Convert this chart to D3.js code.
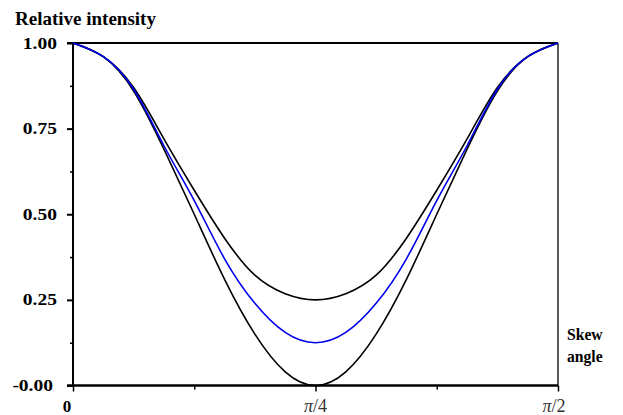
<!DOCTYPE html>
<html>
<head>
<meta charset="utf-8">
<script src="https://cdn.jsdelivr.net/npm/d3@7"></script>
<style>
  body { margin: 0; background: #fff; }
  svg { display: block; }
</style>
</head>
<body>
<svg id="chart" width="623" height="415"></svg>
<script>
// skew angle in degrees (0 .. 90), sampled every 5.625 deg
const angles = [0, 5.625, 11.25, 16.875, 22.5, 28.125, 33.75, 39.375, 45,
                50.625, 56.25, 61.875, 67.5, 73.125, 78.75, 84.375, 90];

// relative intensity
const upperCurve = [1.00, 0.96, 0.87, 0.72, 0.57, 0.43, 0.322, 0.268, 0.25,
                    0.268, 0.322, 0.43, 0.57, 0.72, 0.87, 0.96, 1.00];
const blueCurve  = [1.00, 0.96, 0.865, 0.70, 0.54, 0.37, 0.24, 0.155, 0.125,
                    0.155, 0.24, 0.37, 0.54, 0.70, 0.865, 0.96, 1.00];
const lowerCurve = [1.00, 0.96, 0.86, 0.69, 0.50, 0.31, 0.15, 0.04, 0.00,
                    0.04, 0.15, 0.31, 0.50, 0.69, 0.86, 0.96, 1.00];

const yMajorTicks = [0, 0.25, 0.5, 0.75, 1.0];
const yMinorTicks = [0.125, 0.375, 0.625, 0.875];
const yTickLabels = ["-0.00", "0.25", "0.50", "0.75", "1.00"];
const xMajorTicks = [0, 45, 90];
const xMinorTicks = [22.5, 67.5];
const xTickLabels = ["0", "4", "2"];   // 0, pi/4, pi/2

const serif = "'Liberation Serif', 'DejaVu Serif', serif";
const plotL = 73, plotR = 558, plotT = 43, plotB = 385.5;

const svg = d3.select("#chart");

const x = d3.scaleLinear().domain([0, 90]).range([plotL, plotR]);
const y = d3.scaleLinear().domain([0, 1]).range([plotB, plotT]);

// y axis ticks
svg.append("g")
    .attr("transform", `translate(${plotL},0)`)
    .call(d3.axisLeft(y).tickValues(yMajorTicks).tickSize(6).tickFormat(""))
    .call(g => g.select(".domain").remove())
    .selectAll("line").attr("stroke", "#000").attr("stroke-width", 2);

svg.append("g")
    .attr("transform", `translate(${plotL},0)`)
    .call(d3.axisLeft(y).tickValues(yMinorTicks).tickSize(3).tickFormat(""))
    .call(g => g.select(".domain").remove())
    .selectAll("line").attr("stroke", "#000").attr("stroke-width", 1.5);

// x axis ticks
svg.append("g")
    .attr("transform", `translate(0,${plotB})`)
    .call(d3.axisBottom(x).tickValues(xMajorTicks).tickSize(6).tickFormat(""))
    .call(g => g.select(".domain").remove())
    .selectAll("line").attr("stroke", "#000").attr("stroke-width", 1.5);

svg.append("g")
    .attr("transform", `translate(0,${plotB})`)
    .call(d3.axisBottom(x).tickValues(xMinorTicks).tickSize(4).tickFormat(""))
    .call(g => g.select(".domain").remove())
    .selectAll("line").attr("stroke", "#000").attr("stroke-width", 1.5);

// frame
svg.append("line")
    .attr("x1", plotL - 6).attr("x2", plotR).attr("y1", plotT).attr("y2", plotT)
    .attr("stroke", "#000").attr("stroke-width", 2);
svg.append("line")
    .attr("x1", plotR).attr("x2", plotR).attr("y1", plotT).attr("y2", plotB)
    .attr("stroke", "#000").attr("stroke-width", 1.3);
svg.append("line")
    .attr("x1", plotL).attr("x2", plotL).attr("y1", plotT).attr("y2", plotB + 1)
    .attr("stroke", "#000").attr("stroke-width", 2);
svg.append("line")
    .attr("x1", plotL - 6).attr("x2", plotR).attr("y1", plotB).attr("y2", plotB)
    .attr("stroke", "#000").attr("stroke-width", 2.5);

// curves
const line = d3.line()
    .x((d, i) => x(angles[i]))
    .y(d => y(d))
    .curve(d3.curveNatural);

[[upperCurve, "#000"], [lowerCurve, "#000"], [blueCurve, "#0000ee"]].forEach(s => {
    svg.append("path")
        .attr("d", line(s[0]))
        .attr("fill", "none")
        .attr("stroke", s[1])
        .attr("stroke-width", 1.6);
});

function label(tx, ty, str, anchor, size, sx) {
    return svg.append("text")
        .attr("transform", `translate(${tx},${ty}) scale(${sx || 1},1)`)
        .attr("text-anchor", anchor || "start")
        .attr("font-family", serif)
        .attr("font-weight", "bold")
        .attr("font-size", size || 15)
        .attr("fill", "#000")
        .text(str);
}

// y tick labels
yMajorTicks.forEach((v, i) => label(v == 0 ? 53 : 57, y(v) + 5.5, yTickLabels[i], "end", 16, 1.22));

// x tick labels
label(x(0) - 6, 412, xTickLabels[0], "middle", 17, 1);

xMajorTicks.slice(1).forEach((v, i) => {
    const t = svg.append("text")
        .attr("x", x(v) - (i == 1 ? 4 : 0))
        .attr("y", 412)
        .attr("text-anchor", "middle")
        .attr("font-family", serif)
        .attr("font-size", 18)
        .attr("fill", "#333");
    t.append("tspan").attr("font-style", "italic").text("\u03c0");
    t.append("tspan").text("/" + xTickLabels[i + 1]);
});

// titles
label(15, 25, "Relative intensity", "start", 19);
label(567, 340, "Skew", "start", 16.5, 0.95);
label(567, 362, "angle", "start", 16.5, 0.95);
</script>
</body>
</html>
